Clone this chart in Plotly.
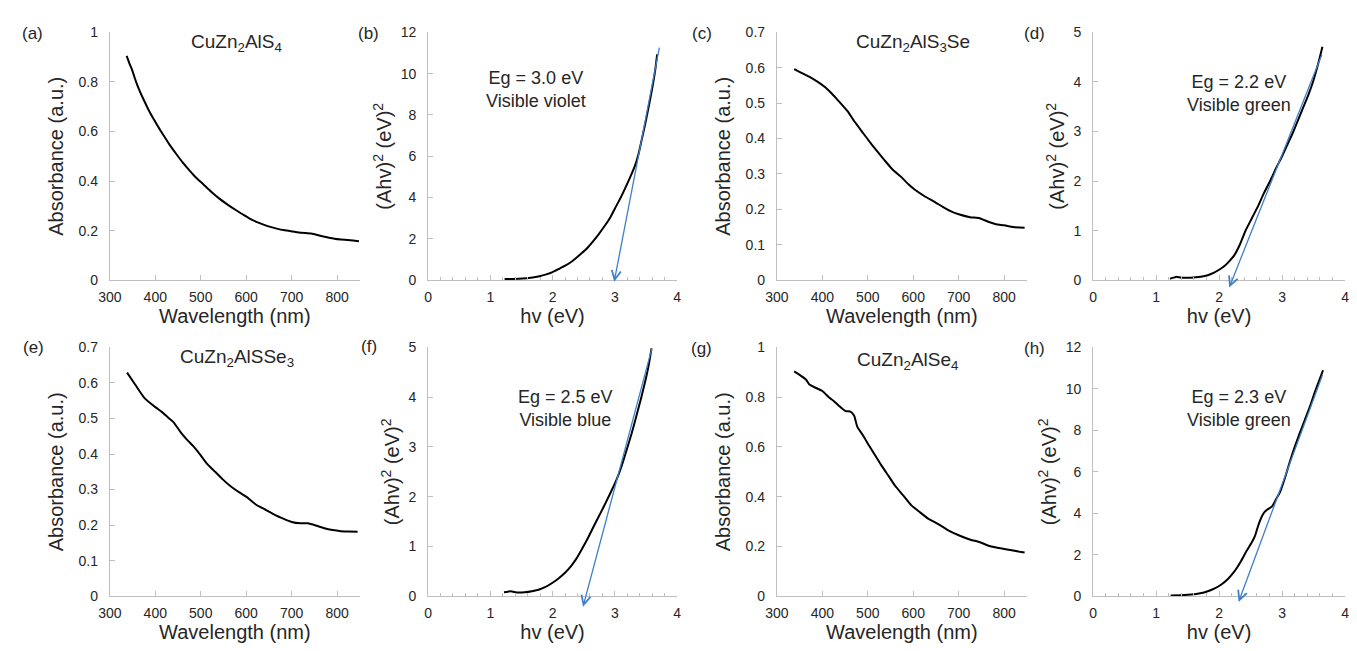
import plotly.graph_objects as go

W, H = 1357, 651

# ---------------- data ----------------
a_wl = [337, 343, 349, 355, 360, 367, 374, 385, 396, 407, 418, 432, 447, 461, 476, 490, 505, 523, 541, 559, 577, 595, 613, 631, 649, 667, 685, 703, 721, 743, 765, 780, 794, 808, 823, 835, 848]
a_abs = [0.905, 0.875, 0.849, 0.815, 0.789, 0.758, 0.730, 0.688, 0.651, 0.617, 0.585, 0.545, 0.507, 0.473, 0.441, 0.413, 0.388, 0.357, 0.329, 0.305, 0.283, 0.262, 0.243, 0.229, 0.217, 0.208, 0.201, 0.196, 0.191, 0.188, 0.178, 0.172, 0.167, 0.164, 0.162, 0.160, 0.157]

c_wl = [338, 355, 371, 390, 407, 420, 436, 455, 472, 490, 501, 520, 538, 555, 574, 590, 603, 625, 646, 665, 682, 700, 725, 746, 765, 782, 800, 820, 845]
c_abs = [0.596, 0.585, 0.575, 0.56, 0.544, 0.528, 0.506, 0.478, 0.446, 0.415, 0.396, 0.365, 0.337, 0.312, 0.291, 0.27, 0.256, 0.237, 0.222, 0.207, 0.195, 0.186, 0.178, 0.175, 0.165, 0.158, 0.155, 0.15, 0.148]

e_wl = [338, 356, 376, 400, 415, 428, 440, 456, 470, 485, 500, 513, 530, 549, 565, 585, 600, 621, 640, 664, 680, 700, 720, 736, 755, 772, 790, 808, 825, 845]
e_abs = [0.629, 0.595, 0.558, 0.532, 0.518, 0.503, 0.49, 0.461, 0.44, 0.42, 0.396, 0.374, 0.352, 0.328, 0.31, 0.292, 0.28, 0.258, 0.245, 0.228, 0.219, 0.209, 0.205, 0.205, 0.198, 0.191, 0.186, 0.183, 0.182, 0.181]

g_wl = [338, 350, 364, 371, 385, 400, 415, 425, 436, 451, 462, 470, 477, 490, 502, 515, 531, 545, 560, 578, 596, 615, 632, 655, 675, 700, 726, 745, 769, 800, 834, 845]
g_abs = [0.904, 0.89, 0.871, 0.852, 0.838, 0.825, 0.799, 0.785, 0.766, 0.744, 0.742, 0.725, 0.681, 0.645, 0.608, 0.57, 0.523, 0.485, 0.444, 0.405, 0.365, 0.337, 0.313, 0.29, 0.267, 0.245, 0.227, 0.218, 0.201, 0.19, 0.179, 0.176]

b_hv = [1.23, 1.35, 1.52, 1.65, 1.79, 1.9, 2.0, 2.1, 2.21, 2.32, 2.42, 2.53, 2.63, 2.74, 2.85, 2.93, 3.0, 3.08, 3.16, 3.24, 3.32, 3.38, 3.43, 3.48, 3.53, 3.57, 3.61, 3.65, 3.68]
b_tauc = [0.05, 0.06, 0.08, 0.12, 0.19, 0.28, 0.39, 0.54, 0.71, 0.93, 1.18, 1.47, 1.81, 2.22, 2.68, 3.05, 3.46, 3.91, 4.41, 4.94, 5.51, 6.1, 6.77, 7.45, 8.19, 8.8, 9.45, 10.2, 10.94]

d_hv = [1.22, 1.28, 1.32, 1.40, 1.55, 1.71, 1.82, 1.92, 2.0, 2.08, 2.16, 2.24, 2.33, 2.42, 2.52, 2.62, 2.71, 2.81, 2.9, 3.0, 3.09, 3.18, 3.26, 3.34, 3.42, 3.49, 3.58, 3.64]
d_tauc = [0.03, 0.05, 0.07, 0.05, 0.05, 0.07, 0.1, 0.15, 0.21, 0.28, 0.38, 0.5, 0.72, 1.0, 1.25, 1.5, 1.75, 2.0, 2.25, 2.5, 2.75, 3.0, 3.25, 3.5, 3.75, 4.0, 4.4, 4.71]

f_hv = [1.22, 1.28, 1.33, 1.40, 1.55, 1.67, 1.8, 1.88, 2.0, 2.09, 2.2, 2.30, 2.38, 2.45, 2.56, 2.66, 2.77, 2.87, 2.95, 3.03, 3.11, 3.19, 3.27, 3.34, 3.42, 3.50, 3.55, 3.59]
f_tauc = [0.08, 0.09, 0.1, 0.08, 0.08, 0.1, 0.14, 0.18, 0.27, 0.35, 0.47, 0.61, 0.75, 0.9, 1.15, 1.40, 1.67, 1.92, 2.13, 2.35, 2.62, 2.94, 3.27, 3.59, 3.97, 4.38, 4.68, 4.98]

h_hv = [1.23, 1.4, 1.56, 1.7, 1.82, 1.93, 2.03, 2.14, 2.24, 2.34, 2.44, 2.52, 2.57, 2.62, 2.68, 2.72, 2.76, 2.84, 2.9, 2.97, 3.05, 3.12, 3.2, 3.28, 3.36, 3.44, 3.52, 3.6, 3.65]
h_tauc = [0.03, 0.05, 0.08, 0.14, 0.24, 0.38, 0.55, 0.83, 1.18, 1.65, 2.2, 2.6, 2.91, 3.4, 3.86, 4.05, 4.17, 4.33, 4.65, 5.04, 5.75, 6.46, 7.2, 7.87, 8.5, 9.13, 9.85, 10.5, 10.9]

# tangent lines: [top point, arrow tip]
b_tan_hv, b_tan_y = [3.72, 2.99], [11.34, -0.08]
d_tan_hv, d_tan_y = [3.64, 2.16], [4.58, -0.15]
f_tan_hv, f_tan_y = [3.60, 2.49], [5.0, -0.21]
h_tan_hv, h_tan_y = [3.65, 2.31], [10.74, -0.28]

compounds = ["CuZn<sub>2</sub>AlS<sub>4</sub>", "CuZn<sub>2</sub>AlS<sub>3</sub>Se",
             "CuZn<sub>2</sub>AlSSe<sub>3</sub>", "CuZn<sub>2</sub>AlSe<sub>4</sub>"]
eg_texts = ["Eg = 3.0 eV<br>Visible violet", "Eg = 2.2 eV<br>Visible green",
            "Eg = 2.5 eV<br>Visible blue", "Eg = 2.3 eV<br>Visible green"]
panel_labels = ["(a)", "(b)", "(c)", "(d)", "(e)", "(f)", "(g)", "(h)"]

# ---------------- layout geometry (pixels) ----------------
col_px = [(99, 352), (421, 673), (774, 1027), (1094, 1349)]
row_px = [(25, 279), (348, 603)]

FONT = "Liberation Sans, Arial, sans-serif"
TXT = "#262626"
AX = "#bfbfbf"
BLUE = "#3f7fc8"

fig = go.Figure()

abs_sets = [(a_wl, a_abs, 0, 0, [0, 1], 0.2),
            (c_wl, c_abs, 0, 2, [0, 0.7], 0.1),
            (e_wl, e_abs, 1, 0, [0, 0.7], 0.1),
            (g_wl, g_abs, 1, 2, [0, 1], 0.2)]
tauc_sets = [(b_hv, b_tauc, b_tan_hv, b_tan_y, 0, 1, [0, 12], 2),
             (d_hv, d_tauc, d_tan_hv, d_tan_y, 0, 3, [0, 5], 1),
             (f_hv, f_tauc, f_tan_hv, f_tan_y, 1, 1, [0, 5], 1),
             (h_hv, h_tauc, h_tan_hv, h_tan_y, 1, 3, [0, 12], 2)]

layout = {}
annotations = []


def axis_names(r, c):
    idx = r * 4 + c + 1
    s = "" if idx == 1 else str(idx)
    return "x" + s, "y" + s, "xaxis" + s, "yaxis" + s


def base_axis():
    return dict(showline=True, linecolor=AX, linewidth=1, ticks="inside", tickcolor=AX,
                ticklen=5, showgrid=False, zeroline=False,
                tickfont=dict(family=FONT, size=14, color=TXT),
                title_font=dict(family=FONT, size=20, color=TXT))


for wl, ab, r, c, yr, dy in abs_sets:
    xn, yn, xk, yk = axis_names(r, c)
    fig.add_trace(go.Scatter(x=wl, y=ab, mode="lines", xaxis=xn, yaxis=yn,
                             line=dict(color="black", width=2, shape="spline", smoothing=0.5),
                             showlegend=False))
    xa = base_axis()
    xa.update(domain=[col_px[c][0] / W, col_px[c][1] / W], anchor=yn, range=[300, 850],
              tick0=300, dtick=100, title_text="Wavelength (nm)", title_standoff=0,
              ticklabelstandoff=4)
    ya = base_axis()
    ya.update(domain=[1 - row_px[r][1] / H, 1 - row_px[r][0] / H], anchor=xn, range=yr,
              tick0=0, dtick=dy, title_text="Absorbance (a.u.)", title_standoff=9,
              ticklabelstandoff=8)
    layout[xk] = xa
    layout[yk] = ya

for hv, tv, thv, ty, r, c, yr, dy in tauc_sets:
    xn, yn, xk, yk = axis_names(r, c)
    fig.add_trace(go.Scatter(x=hv, y=tv, mode="lines", xaxis=xn, yaxis=yn,
                             line=dict(color="black", width=2, shape="spline", smoothing=0.5),
                             showlegend=False))
    xa = base_axis()
    xa.update(domain=[col_px[c][0] / W, col_px[c][1] / W], anchor=yn, range=[0, 4],
              tick0=0, dtick=1, title_text="hv (eV)", title_standoff=0, ticklabelstandoff=4,
              minor=dict(dtick=0.2, ticks="inside", ticklen=3, tickcolor=AX))
    ya = base_axis()
    ya.update(domain=[1 - row_px[r][1] / H, 1 - row_px[r][0] / H], anchor=xn, range=yr,
              tick0=0, dtick=dy, title_text="(Ahv)<sup>2</sup> (eV)<sup>2</sup>",
              title_standoff=3, ticklabelstandoff=8)
    layout[xk] = xa
    layout[yk] = ya
    # tangent arrow drawn from the top point to the tip
    annotations.append(dict(x=thv[1], y=ty[1], ax=thv[0], ay=ty[0], xref=xn, yref=yn,
                            axref=xn, ayref=yn, showarrow=True, arrowhead=5, arrowsize=1.4,
                            arrowwidth=1.3, arrowcolor=BLUE, text=""))


def paper(px, py):
    return px / W, 1 - py / H


# compound titles
for (px, py), txt in zip([(227, 36), (912, 36), (228, 359), (906, 362)], compounds):
    x, y = paper(px, py)
    annotations.append(dict(x=x, y=y, xref="paper", yref="paper", text=txt, showarrow=False,
                            xanchor="center", yanchor="middle",
                            font=dict(family=FONT, size=19, color=TXT)))

# Eg annotations
for (px, py), txt in zip([(530, 84), (1242, 88), (560, 411), (1242, 411)], eg_texts):
    x, y = paper(px, py)
    annotations.append(dict(x=x, y=y, xref="paper", yref="paper", text=txt, showarrow=False,
                            xanchor="center", yanchor="middle",
                            font=dict(family=FONT, size=18, color=TXT)))

# panel labels
for (px, py), txt in zip([(21, 26), (361, 26), (698, 26), (1035, 26),
                          (22, 348), (361, 347), (698, 349), (1035, 349)], panel_labels):
    x, y = paper(px, py)
    annotations.append(dict(x=x, y=y, xref="paper", yref="paper", text=txt, showarrow=False,
                            xanchor="center", yanchor="middle",
                            font=dict(family=FONT, size=17, color=TXT)))

fig.update_layout(width=W, height=H, margin=dict(l=0, r=0, t=0, b=0),
                  paper_bgcolor="white", plot_bgcolor="white",
                  annotations=annotations, **layout)

fig.write_html("out.html")
